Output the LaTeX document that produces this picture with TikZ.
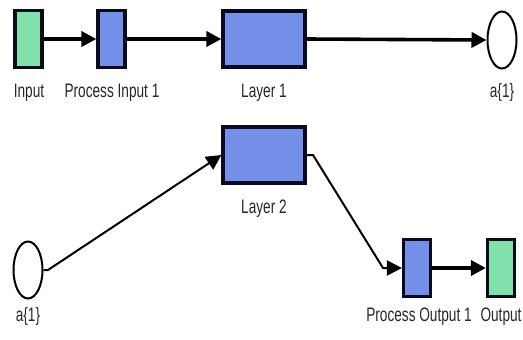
\documentclass[tikz,border=0pt]{standalone}
\usepackage{fontspec}
\setmainfont{Liberation Sans}
\usetikzlibrary{arrows.meta,shapes.geometric}

\definecolor{portgreen}{RGB}{128,226,170}
\definecolor{blockblue}{RGB}{116,144,232}
\definecolor{edgenavy}{RGB}{10,10,30}

\tikzset{
  blockbox/.style={draw=edgenavy, line width=3.2pt, fill=blockblue, inner sep=0pt},
  portbox/.style={draw=edgenavy, line width=3.2pt, fill=portgreen, inner sep=0pt,
                  minimum width=27pt, minimum height=57pt},
  smallblock/.style={blockbox, minimum width=27pt, minimum height=57pt},
  wideblock/.style={blockbox, minimum width=82pt, minimum height=56pt},
  tag/.style={ellipse, draw=black, line width=2pt, fill=white, inner sep=0pt,
              minimum width=29pt, minimum height=57pt},
  caption/.style={anchor=base, inner sep=0pt, text=black!85,
                  font=\fontsize{19.5pt}{21pt}\selectfont},
  bus/.style={line width=3.6pt, -{Triangle[length=15pt,width=15pt]}},
  wire/.style={line width=2pt, -{Triangle[length=15pt,width=15pt]}}
}
\newcommand{\narrow}[1]{\scalebox{0.7}[1]{#1}}

\begin{document}
\begin{tikzpicture}[x=1pt,y=-1pt]
  \useasboundingbox (0,0) rectangle (523,340);

  % upper chain
  \node[portbox]    (in)   at (28.5,39)  {};
  \node[smallblock] (pin)  at (111.5,39) {};
  \node[wideblock]  (L1)   at (264,39)   {};
  \node[tag]        (atop) at (502,40)   {};

  % lower chain
  \node[wideblock]  (L2)   at (264,155)  {};
  \node[tag]        (abot) at (28,270)   {};
  \node[smallblock] (pout) at (417,268)  {};
  \node[portbox]    (out)  at (501,268)  {};

  % captions
  \node[caption] (tin)   at (29,97)   {\narrow{Input}};
  \node[caption] (tpin)  at (112,97)  {\narrow{Process Input 1}};
  \node[caption] (tL1)   at (264,97)  {\narrow{Layer 1}};
  \node[caption] (tatop) at (502,97)  {\narrow{a\{1\}}};
  \node[caption] (tL2)   at (264,213) {\narrow{Layer 2}};
  \node[caption] (tabot) at (28,321)  {\narrow{a\{1\}}};
  \node[caption] (tpout) at (419,321) {\narrow{Process Output 1}};
  \node[caption] (tout)  at (501,321) {\narrow{Output}};

  % routing points
  \coordinate (s1) at (48,270);
  \coordinate (b1) at (313,155);
  \coordinate (b2) at (383,268);

  % connectors
  \draw[bus] (in.east) -- (pin.west);
  \draw[bus] (pin.east) -- (L1.west);
  \draw[bus] (L1.east) -- (atop.west);
  \draw[wire] (abot.east) -- (s1) -- (L2.west);
  \draw[wire] (L2.east) -- (b1) -- (b2) -- (pout.west);
  \draw[bus] (pout.east) -- (out.west);
\end{tikzpicture}
\end{document}
